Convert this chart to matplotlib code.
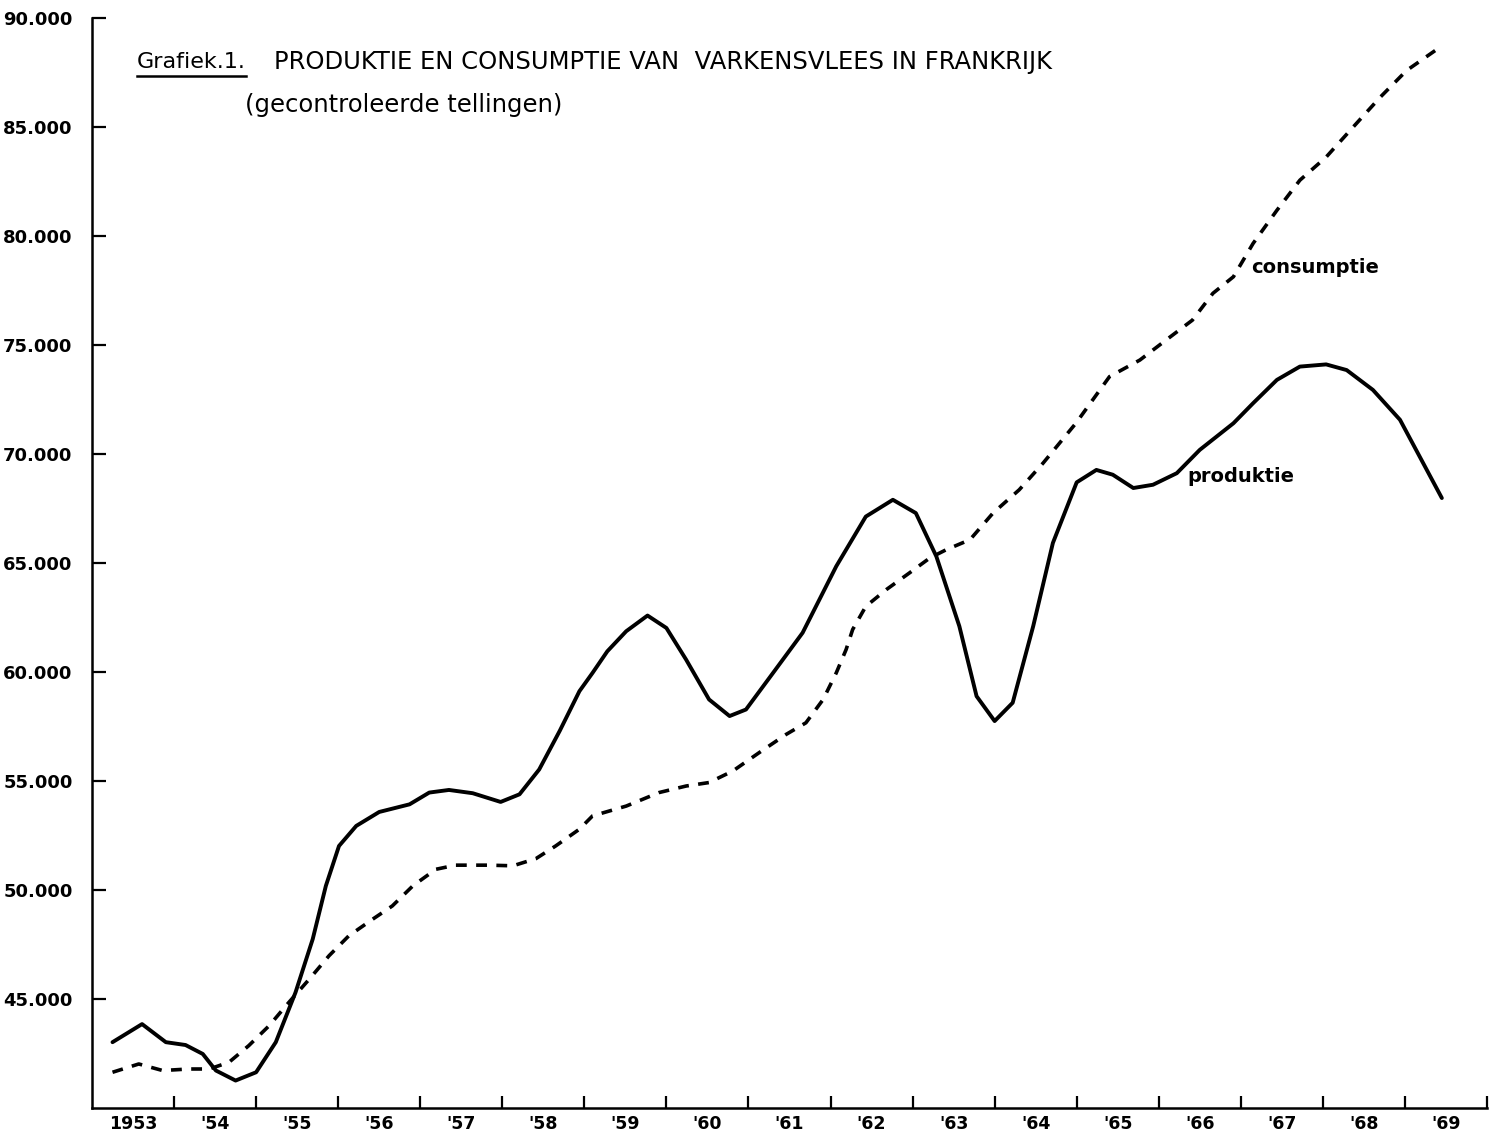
import numpy as np
import matplotlib
matplotlib.use('Agg')
import matplotlib.pyplot as plt
from matplotlib.lines import Line2D

# (year, tonnes)
prod_year = [1953.25, 1953.61, 1953.90, 1954.14, 1954.35, 1954.51, 1954.75, 1955.00,
             1955.24, 1955.48, 1955.69, 1955.85, 1956.01, 1956.22, 1956.50, 1956.87,
             1957.11, 1957.35, 1957.64, 1957.98, 1958.21, 1958.45, 1958.70, 1958.94,
             1959.10, 1959.28, 1959.51, 1959.77, 1960.00, 1960.24, 1960.52, 1960.77,
             1960.97, 1961.30, 1961.66, 1962.07, 1962.43, 1962.76, 1963.04, 1963.29,
             1963.57, 1963.78, 1964.00, 1964.22, 1964.47, 1964.71, 1965.00, 1965.24,
             1965.44, 1965.69, 1965.93, 1966.22, 1966.50, 1966.91, 1967.15, 1967.44,
             1967.72, 1968.04, 1968.29, 1968.61, 1968.94, 1969.18, 1969.45]
prod_val = [43020, 43850, 43020, 42890, 42480, 41720, 41260, 41640,
            43020, 45300, 47750, 50190, 52020, 52940, 53580, 53930,
            54470, 54590, 54440, 54040, 54390, 55530, 57300, 59120,
            59960, 60950, 61870, 62590, 62020, 60570, 58740, 57980,
            58280, 59960, 61800, 64850, 67130, 67900, 67290, 65300,
            62100, 58890, 57750, 58590, 62100, 65920, 68700, 69270,
            69050, 68440, 68590, 69120, 70190, 71410, 72330, 73400,
            74010, 74110, 73850, 72940, 71570, 69880, 67980]

cons_year = [1953.25, 1953.57, 1953.86, 1954.18, 1954.43, 1954.67, 1954.91, 1955.16,
             1955.40, 1955.65, 1955.89, 1956.13, 1956.42, 1956.66, 1956.91, 1957.19,
             1957.43, 1957.84, 1958.13, 1958.41, 1958.65, 1958.94, 1959.10, 1959.51,
             1959.91, 1960.24, 1960.52, 1960.81, 1961.13, 1961.46, 1961.70, 1961.91,
             1962.07, 1962.19, 1962.27, 1962.43, 1962.68, 1962.96, 1963.21, 1963.41,
             1963.70, 1963.98, 1964.30, 1964.59, 1964.99, 1965.40, 1965.77, 1966.09,
             1966.41, 1966.66, 1966.91, 1967.15, 1967.44, 1967.72, 1968.04, 1968.37,
             1968.70, 1969.02, 1969.37]
cons_val = [41640, 42020, 41720, 41790, 41790, 42100, 42860, 43780,
            44850, 45920, 46990, 47900, 48660, 49270, 50190, 50950,
            51140, 51140, 51110, 51440, 52020, 52790, 53400, 53850,
            54470, 54770, 54930, 55460, 56300, 57140, 57670, 58740,
            59960, 61030, 61950, 63010, 63780, 64540, 65230, 65610,
            66070, 67290, 68360, 69580, 71410, 73550, 74310, 75230,
            76140, 77370, 78130, 79660, 81180, 82560, 83620, 85000,
            86370, 87590, 88510]

year_labels = ['1953', "'54", "'55", "'56", "'57", "'58", "'59", "'60", "'61",
               "'62", "'63", "'64", "'65", "'66", "'67", "'68", "'69"]
y_ticks = [45000, 50000, 55000, 60000, 65000, 70000, 75000, 80000, 85000, 90000]

plt.rcParams['font.family'] = 'DejaVu Sans'

fig = plt.figure(figsize=(14.91, 11.39), dpi=100)
ax = fig.add_axes([0.0617, 0.0272, 0.9356, 0.957])

ax.plot(prod_year, prod_val, color='black', linewidth=2.8,
        solid_capstyle='round', solid_joinstyle='round')
ax.plot(cons_year, cons_val, color='black', linewidth=2.6, linestyle=(0, (3, 2.6)))

ax.set_xlim(1953, 1970)
ax.set_ylim(40000, 90000)

for side in ['top', 'right']:
    ax.spines[side].set_visible(False)
for side in ['left', 'bottom']:
    ax.spines[side].set_linewidth(1.8)

# year boundaries as ticks, labels in between
ax.set_xticks(np.arange(1954, 1971))
ax.set_xticklabels([])
ax.set_xticks(np.arange(1953.5, 1970), minor=True)
ax.set_xticklabels(year_labels, minor=True, fontsize=12.5, fontweight='bold')
ax.tick_params(axis='x', which='major', direction='in', length=9, width=1.6)
ax.tick_params(axis='x', which='minor', length=0, pad=5)

ax.set_yticks(y_ticks)
ax.set_yticklabels([f'{v // 1000}.000' for v in y_ticks], fontsize=13, fontweight='bold')
ax.tick_params(axis='y', direction='in', length=10, width=1.6, pad=14)

# labels on the lines
ax.text(1967.13, 78550, 'consumptie', fontsize=14, fontweight='semibold', va='center')
ax.text(1966.35, 68950, 'produktie', fontsize=14, fontweight='semibold', va='center')

# title with underlined "Grafiek.1."
t1 = fig.text(137 / 1491, 1 - 62 / 1139, 'Grafiek.1.', fontsize=16, va='center')
fig.canvas.draw()
bb = t1.get_window_extent()
W, H = fig.bbox.width, fig.bbox.height
fig.text((bb.x1 + 28) / W, 1 - 62 / 1139,
         'PRODUKTIE EN CONSUMPTIE VAN  VARKENSVLEES IN FRANKRIJK',
         fontsize=17.5, va='center')
fig.add_artist(Line2D([bb.x0 / W, bb.x1 / W], [(bb.y0 - 4) / H] * 2,
                      color='black', linewidth=1.8))
fig.text(245 / 1491, 1 - 105 / 1139, '(gecontroleerde tellingen)', fontsize=17.5, va='center')

fig.savefig('out.png', dpi=100)
